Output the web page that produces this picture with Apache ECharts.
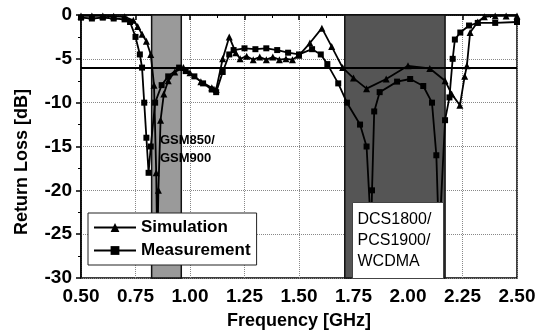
<!DOCTYPE html>
<html>
<head>
<meta charset="utf-8">
<script src="https://cdn.jsdelivr.net/npm/echarts@6/dist/echarts.min.js"></script>
<style>
  html, body { margin: 0; padding: 0; background: #fff; }
  #chart { width: 550px; height: 335px; }
</style>
</head>
<body>
<div id="chart"></div>
<script>
// simulation (triangles)
var simFreq = [0.50, 0.55, 0.60, 0.65, 0.70, 0.74, 0.76, 0.78, 0.80, 0.82, 0.835, 0.845, 0.85, 0.855, 0.865,
  0.88, 0.90, 0.93, 0.97, 1.00, 1.05, 1.10, 1.12, 1.15, 1.18, 1.21, 1.23, 1.26, 1.29, 1.32,
  1.35, 1.38, 1.41, 1.44, 1.47, 1.50, 1.55, 1.605, 1.65, 1.70, 1.75, 1.81, 1.90, 2.00, 2.10,
  2.17, 2.20, 2.238, 2.26, 2.27, 2.285, 2.32, 2.35, 2.40, 2.45, 2.50];
var simLoss = [-0.1, -0.1, -0.1, -0.15, -0.2, -0.6, -1.3, -2.2, -3.0, -4.5, -8, -18, -27, -20, -12,
  -9, -7.5, -6.5, -6, -6.6, -7.6, -8.3, -8.5, -5, -2.5, -4.3, -5, -4.7, -5.1, -4.8,
  -5.1, -4.8, -5.1, -5.0, -5.1, -4.6, -3.2, -1.5, -3.6, -6.0, -7.2, -8.4, -7.3, -5.8, -6.1,
  -7.5, -9, -10.3, -7, -5.8, -2.0, -0.8, -0.2, -0.1, -0.1, -0.1];

// measurement (squares)
var measFreq = [0.50, 0.55, 0.60, 0.65, 0.70, 0.725, 0.75, 0.77, 0.78, 0.79, 0.80, 0.81, 0.82, 0.84, 0.87,
  0.90, 0.95, 0.98, 1.02, 1.06, 1.10, 1.12, 1.15, 1.18, 1.20, 1.25, 1.30, 1.35, 1.40, 1.45,
  1.50, 1.56, 1.60, 1.63, 1.68, 1.72, 1.78, 1.81, 1.825, 1.83, 1.835, 1.845, 1.87, 1.95, 2.01,
  2.07, 2.11, 2.13, 2.14, 2.15, 2.17, 2.19, 2.205, 2.215, 2.24, 2.28, 2.32, 2.40, 2.50];
var measLoss = [-0.3, -0.4, -0.3, -0.4, -0.5, -0.8, -2.5, -4.5, -6, -10, -14, -18, -15, -10, -8,
  -7, -6, -6.4, -7, -7.8, -8.5, -8.8, -6.5, -4.5, -4.0, -3.8, -3.9, -3.8, -4.0, -4.3,
  -4.5, -3.9, -4.5, -5.6, -7.8, -10, -12.5, -15, -22, -26, -20, -11, -8.8, -7.6, -7.3,
  -8.1, -10, -16, -24, -22, -12, -9.4, -5, -2.8, -2, -1.2, -0.9, -0.9, -0.8];

// frequency bands [start, end] in GHz
var gsmBand = [0.824, 0.960];
var dcsBand = [1.710, 2.170];
var limitLine = -6;

function pairs(xs, ys) {
  return xs.map(function (x, i) {
    return [x, ys[i]];
  });
}

var font = "'Liberation Sans', Arial, sans-serif";

var chart = echarts.init(document.getElementById("chart"));
var option = {
  animation: false,
  backgroundColor: "#fff",
  grid: {
    left: 81,
    right: 33,
    top: 15,
    bottom: 52,
    show: true,
    borderColor: "#000",
    borderWidth: 1.5,
  },
  legend: {
    left: 88,
    top: 213,
    orient: "vertical",
    selectedMode: false,
    backgroundColor: "#fff",
    borderColor: "#222",
    borderWidth: 1,
    padding: [6, 6, 6, 5],
    itemGap: 6,
    itemWidth: 42,
    itemHeight: 11,
    textStyle: { fontFamily: font, fontWeight: "bold", fontSize: 17, color: "#000" },
    data: ["Simulation", "Measurement"],
  },
  xAxis: {
    type: "value",
    min: 0.5,
    max: 2.5,
    interval: 0.25,
    axisLine: { lineStyle: { color: "#000", width: 1.5 } },
    axisTick: { inside: false, length: 5, lineStyle: { color: "#000", width: 1.5 } },
    minorTick: { show: true, splitNumber: 2, length: 3, lineStyle: { color: "#000" } },
    splitLine: { show: true, lineStyle: { color: "#888", type: "dotted", width: 1 } },
    axisLabel: {
      margin: 9,
      fontFamily: font,
      fontWeight: "bold",
      fontSize: 19,
      color: "#000",
      formatter: function (v) {
        return v.toFixed(2);
      },
    },
    name: "Frequency [GHz]",
    nameLocation: "middle",
    nameGap: 34,
    nameTextStyle: { fontFamily: font, fontWeight: "bold", fontSize: 18, color: "#000" },
  },
  yAxis: {
    type: "value",
    min: -30,
    max: 0,
    interval: 5,
    axisLine: { show: true, lineStyle: { color: "#000", width: 1.5 } },
    axisTick: { show: true, inside: false, length: 5, lineStyle: { color: "#000", width: 1.5 } },
    minorTick: { show: true, splitNumber: 2, length: 3, lineStyle: { color: "#000" } },
    splitLine: { show: true, lineStyle: { color: "#888", type: "dotted", width: 1 } },
    axisLabel: {
      margin: 9,
      fontFamily: font,
      fontWeight: "bold",
      fontSize: 19,
      color: "#000",
    },
  },
  graphic: [
    {
      type: "text",
      z: 100,
      x: 22,
      y: 162,
      rotation: Math.PI / 2,
      style: {
        text: "Return Loss [dB]",
        fontFamily: font,
        fontWeight: "bold",
        fontSize: 18,
        fill: "#000",
        textAlign: "center",
        textVerticalAlign: "middle",
      },
    },
    {
      type: "text",
      z: 100,
      x: 160,
      y: 131,
      style: {
        text: "GSM850/\nGSM900",
        fontFamily: font,
        fontWeight: "bold",
        fontSize: 13,
        lineHeight: 18,
        fill: "#000",
      },
    },
    {
      type: "group",
      z: 100,
      left: 352,
      top: 202,
      children: [
        {
          type: "rect",
          z: 100,
          shape: { x: 0, y: 0, width: 91, height: 76 },
          style: { fill: "#fff", stroke: "#444", lineWidth: 1 },
        },
        {
          type: "text",
          z: 101,
          x: 5,
          y: 7,
          style: {
            text: "DCS1800/\nPCS1900/\nWCDMA",
            fontFamily: font,
            fontSize: 16,
            lineHeight: 21,
            fill: "#000",
          },
        },
      ],
    },
  ],
  series: [
    {
      // shaded bands, kept under the curves
      name: "bands",
      type: "line",
      z: 1,
      data: [],
      markArea: {
        silent: true,
        data: [
          [{ xAxis: gsmBand[0], itemStyle: { color: "#9a9a9a", borderColor: "#111", borderWidth: 1.5 } }, { xAxis: gsmBand[1] }],
          [{ xAxis: dcsBand[0], itemStyle: { color: "#555", borderColor: "#111", borderWidth: 1.5 } }, { xAxis: dcsBand[1] }],
        ],
      },
    },
    {
      name: "Simulation",
      type: "line",
      z: 3,
      data: pairs(simFreq, simLoss),
      symbol: "triangle",
      symbolSize: 7,
      showAllSymbol: true,
      lineStyle: { color: "#000", width: 1.8 },
      itemStyle: { color: "#000" },
      markLine: {
        silent: true,
        symbol: "none",
        label: { show: false },
        lineStyle: { color: "#000", width: 2, type: "solid" },
        data: [{ yAxis: limitLine }],
      },
    },
    {
      name: "Measurement",
      type: "line",
      z: 3,
      data: pairs(measFreq, measLoss),
      symbol: "rect",
      symbolSize: 6,
      showAllSymbol: true,
      lineStyle: { color: "#000", width: 1.8 },
      itemStyle: { color: "#000" },
    },
  ],
};
chart.setOption(option);
</script>
</body>
</html>
